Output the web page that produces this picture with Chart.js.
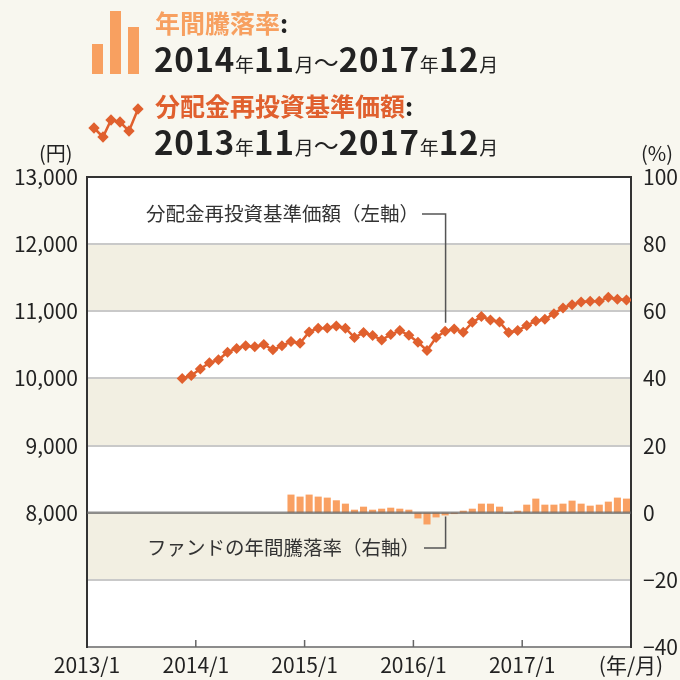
<!DOCTYPE html>
<html lang="ja">
<head>
<meta charset="utf-8">
<script src="https://cdn.jsdelivr.net/npm/chart.js@4.4.1/dist/chart.umd.min.js"></script>
<style>
  html, body { margin:0; padding:0; background:#f8f7ef; }
  #wrap { position:relative; width:680px; height:680px; overflow:hidden; font-family:'Noto Sans CJK JP','Noto Sans',sans-serif; }
  #c { position:absolute; left:0; top:0; }
  .hdr { position:absolute; white-space:nowrap; line-height:1; }
  .ttl { font-size:25px; font-weight:700; }
  .ttl .colon { color:#222; }
  .dt { font-size:33px; font-weight:700; color:#222; letter-spacing:0.8px; }
  .dt small { font-size:19px; font-weight:400; letter-spacing:0; }
  .dt .wave { font-size:25px; font-weight:400; letter-spacing:0; }
  .unit { position:absolute; font-size:20px; color:#222; line-height:1; }
</style>
</head>
<body>
<div id="wrap">
  <canvas id="c" width="680" height="680"></canvas>

  <svg class="hdr" style="left:88px;top:8px" width="60" height="70" viewBox="0 0 60 70">
    <rect x="4" y="36" width="11" height="30" fill="#f8a060"/>
    <rect x="22" y="3" width="11" height="63" fill="#f8a060"/>
    <rect x="40" y="19" width="11" height="47" fill="#f8a060"/>
  </svg>
  <div class="hdr ttl" style="left:155px;top:10px;color:#f7a060">年間騰落率<span class="colon">:</span></div>
  <div class="hdr dt" style="left:154px;top:42px">2014<small>年</small>11<small>月</small><span class="wave">～</span>2017<small>年</small>12<small>月</small></div>

  <svg class="hdr" style="left:84px;top:102px" width="60" height="44" viewBox="0 0 60 44">
    <polyline points="10,26 19,35 27,18 36,20 45,29 54,7" fill="none" stroke="#e0602e" stroke-width="2.5"/>
    <g fill="#e0602e">
      <rect x="6" y="22" width="8" height="8" transform="rotate(45 10 26)"/>
      <rect x="15" y="31" width="8" height="8" transform="rotate(45 19 35)"/>
      <rect x="23" y="14" width="8" height="8" transform="rotate(45 27 18)"/>
      <rect x="32" y="16" width="8" height="8" transform="rotate(45 36 20)"/>
      <rect x="41" y="25" width="8" height="8" transform="rotate(45 45 29)"/>
      <rect x="50" y="3" width="8" height="8" transform="rotate(45 54 7)"/>
    </g>
  </svg>
  <div class="hdr ttl" style="left:155px;top:93px;color:#e0602e">分配金再投資基準価額<span class="colon">:</span></div>
  <div class="hdr dt" style="left:154px;top:125px">2013<small>年</small>11<small>月</small><span class="wave">～</span>2017<small>年</small>12<small>月</small></div>

  <div class="unit" style="left:39px;top:143px">(円)</div>
  <div class="unit" style="left:641px;top:143px">(%)</div>
</div>
<script>
// ---- data ----
const navMonths = ["2013/11","2013/12",
  "2014/1","2014/2","2014/3","2014/4","2014/5","2014/6","2014/7","2014/8","2014/9","2014/10","2014/11","2014/12",
  "2015/1","2015/2","2015/3","2015/4","2015/5","2015/6","2015/7","2015/8","2015/9","2015/10","2015/11","2015/12",
  "2016/1","2016/2","2016/3","2016/4","2016/5","2016/6","2016/7","2016/8","2016/9","2016/10","2016/11","2016/12",
  "2017/1","2017/2","2017/3","2017/4","2017/5","2017/6","2017/7","2017/8","2017/9","2017/10","2017/11","2017/12"];
const navValues = [10000,10045,
  10139,10233,10277,10391,10446,10485,10470,10505,10426,10485,10550,10525,
  10693,10748,10750,10782,10748,10609,10683,10639,10574,10653,10713,10644,
  10540,10416,10609,10703,10738,10688,10835,10921,10871,10842,10683,10713,
  10787,10856,10881,10965,11050,11099,11139,11149,11149,11208,11178,11168];

const retMonths = ["2014/11","2014/12",
  "2015/1","2015/2","2015/3","2015/4","2015/5","2015/6","2015/7","2015/8","2015/9","2015/10","2015/11","2015/12",
  "2016/1","2016/2","2016/3","2016/4","2016/5","2016/6","2016/7","2016/8","2016/9","2016/10","2016/11","2016/12",
  "2017/1","2017/2","2017/3","2017/4","2017/5","2017/6","2017/7","2017/8","2017/9","2017/10","2017/11","2017/12"];
const retValues = [5.4,4.8,
  5.4,4.8,4.5,3.7,2.7,0.9,1.8,0.9,1.2,1.5,1.2,0.9,
  -1.7,-3.5,-1.4,-0.8,-0.4,0.6,1.2,2.7,2.7,1.8,-0.3,0.6,
  2.4,4.2,2.4,2.4,2.7,3.6,2.7,2.1,2.4,3.3,4.5,4.2];

const xTickLabels = ["2013/1","2014/1","2015/1","2016/1","2017/1","(年/月)"];
const leftTicks = [8000,9000,10000,11000,12000,13000];
const rightTicks = [-40,-20,0,20,40,60,80,100];

// month string -> position on the axis (months since 2013/1, centred in the month)
const ORIGIN_YEAR = 2013;
function monthPos(s){ const [y,m] = s.split('/').map(Number); return (y-ORIGIN_YEAR)*12 + (m-1) + 0.5; }

const navPoints = navMonths.map((m,i)=>({x:monthPos(m), y:navValues[i]}));
const retPoints = retMonths.map((m,i)=>({x:monthPos(m), y:retValues[i]}));

const FONT = "'Noto Sans CJK JP','Noto Sans',sans-serif";
Chart.defaults.font.family = FONT;
Chart.defaults.color = '#222';

const LINE_COLOR = '#e0602e';
const BAR_COLOR = '#f9a062';

const decor = {
  id:'decor',
  beforeDraw(chart){
    const {ctx, chartArea:a, scales} = chart;
    const yL = scales.yL;
    ctx.save();
    ctx.fillStyle = '#ffffff';
    ctx.fillRect(a.left, a.top, a.right-a.left, a.bottom-a.top);
    ctx.fillStyle = '#f2efe2';
    [[11000,12000],[9000,10000],[7000,8000]].forEach(([lo,hi])=>{
      const y1 = yL.getPixelForValue(hi), y2 = yL.getPixelForValue(lo);
      ctx.fillRect(a.left, y1, a.right-a.left, y2-y1);
    });
    ctx.restore();
  },
  afterDatasetsDraw(chart){
    const {ctx, chartArea:a, scales} = chart;
    const x = scales.x, yL = scales.yL, yR = scales.yR;
    ctx.save();
    // zero line
    const y0 = yR.getPixelForValue(0);
    ctx.strokeStyle = 'rgba(100,100,100,0.72)';
    ctx.lineWidth = 2.5;
    ctx.beginPath(); ctx.moveTo(a.left, y0); ctx.lineTo(a.right, y0); ctx.stroke();
    // top border
    ctx.strokeStyle = '#333'; ctx.lineWidth = 2;
    ctx.beginPath(); ctx.moveTo(a.left-1, a.top); ctx.lineTo(a.right+1, a.top); ctx.stroke();
    // inner tick marks on x axis
    ctx.strokeStyle = '#666'; ctx.lineWidth = 1.5;
    [12,24,36,48].forEach(v=>{
      const px = x.getPixelForValue(v);
      ctx.beginPath(); ctx.moveTo(px, a.bottom); ctx.lineTo(px, a.bottom-7); ctx.stroke();
    });
    // annotations
    ctx.font = "19.5px " + FONT;
    ctx.fillStyle = '#333';
    ctx.textBaseline = 'middle';
    ctx.textAlign = 'left';
    const lx = x.getPixelForValue(39.55);
    const t1 = '分配金再投資基準価額（左軸）';
    const t1y = yL.getPixelForValue(12450);
    ctx.fillText(t1, 146, t1y);
    const t1end = 146 + ctx.measureText(t1).width;
    const t2 = 'ファンドの年間騰落率（右軸）';
    const t2y = yR.getPixelForValue(-10.5);
    ctx.fillText(t2, 147, t2y);
    const t2end = 147 + ctx.measureText(t2).width;
    ctx.strokeStyle = '#555'; ctx.lineWidth = 1.5;
    ctx.beginPath();
    ctx.moveTo(t1end+3, t1y); ctx.lineTo(lx, t1y); ctx.lineTo(lx, yL.getPixelForValue(10830));
    ctx.stroke();
    ctx.beginPath();
    ctx.moveTo(t2end+4, t2y); ctx.lineTo(lx, t2y); ctx.lineTo(lx, yR.getPixelForValue(-1.1));
    ctx.stroke();
    ctx.restore();
  }
};

new Chart(document.getElementById('c'), {
  type:'bar',
  data:{
    datasets:[
      { type:'line', label:'分配金再投資基準価額', yAxisID:'yL', data:navPoints,
        borderColor:LINE_COLOR, backgroundColor:LINE_COLOR, borderWidth:2.5,
        pointStyle:'rectRot', pointRadius:5.5, pointHoverRadius:5.5, pointBorderWidth:0,
        tension:0, order:0 },
      { type:'bar', label:'年間騰落率', yAxisID:'yR', data:retPoints,
        backgroundColor:BAR_COLOR, barPercentage:0.78, categoryPercentage:1, order:1 }
    ]
  },
  options:{
    responsive:false,
    animation:false,
    devicePixelRatio:1,
    layout:{ padding:{ top:177, left:0, right:0, bottom:0 } },
    plugins:{ legend:{display:false}, tooltip:{enabled:false} },
    scales:{
      x:{
        type:'linear', min:0, max:60, offset:false,
        grid:{ display:false, drawTicks:false },
        border:{ display:true, color:'#8c8c8c', width:2 },
        afterBuildTicks(s){ s.ticks = [0,12,24,36,48,60].map(v=>({value:v})); },
        ticks:{ autoSkip:false, maxRotation:0, padding:5, color:'#222',
          font:{ size:21 }, callback:(v,i)=>xTickLabels[i] },
        afterFit(s){ s.height = 33; }
      },
      yL:{
        position:'left', min:6000, max:13000,
        afterBuildTicks(s){ s.ticks = [6000,7000].concat(leftTicks).map(v=>({value:v})); },
        grid:{ drawTicks:false, lineWidth:2, color:(c)=> c.tick && c.tick.value===8000 ? 'rgba(0,0,0,0)' : '#c9c9c9' },
        border:{ display:true, color:'#333', width:2 },
        ticks:{ padding:9, color:'#222', font:{ size:21 },
          callback:(v)=> leftTicks.includes(v) ? v.toLocaleString('en-US') : '' },
        afterFit(s){ s.width = 87; }
      },
      yR:{
        position:'right', min:-40, max:100,
        afterBuildTicks(s){ s.ticks = rightTicks.map(v=>({value:v})); },
        grid:{ display:false, drawTicks:false },
        border:{ display:true, color:'#333', width:2 },
        ticks:{ padding:12, color:'#222', font:{ size:21 },
          callback:(v)=> v<0 ? '\u2212'+Math.abs(v) : String(v) },
        afterFit(s){ s.width = 49; }
      }
    }
  },
  plugins:[decor]
});
</script>
</body>
</html>
